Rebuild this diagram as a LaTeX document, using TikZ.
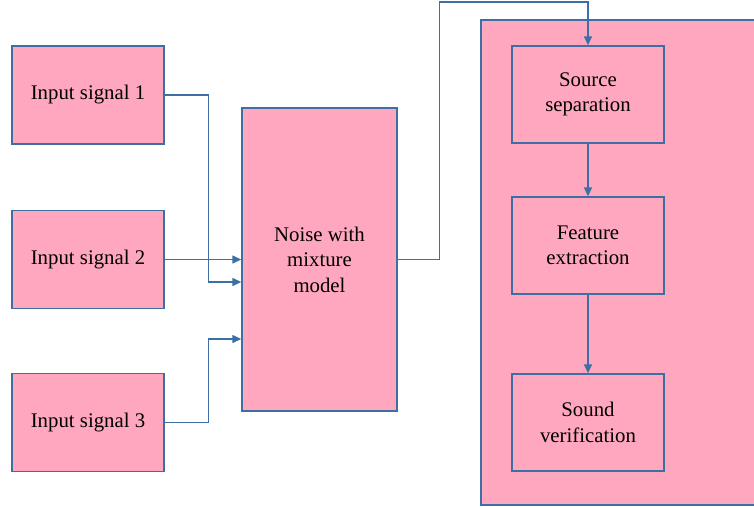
\documentclass[tikz,border=0pt]{standalone}
\usepackage{fontspec}
\setmainfont{Liberation Serif}
\usetikzlibrary{arrows.meta,calc}
\definecolor{boxfill}{HTML}{FFA7BE}
\definecolor{edge}{HTML}{3D6FA3}
\tikzset{
  blk/.style={draw=edge, fill=boxfill, line width=1.4pt, align=center, inner sep=0pt,
    font=\fontsize{20.8}{25.5}\selectfont, text=black},
  arr/.style={draw=edge, line width=1.4pt, -{Triangle[length=9pt,width=8pt]}}
}
\begin{document}
\begin{tikzpicture}[x=1pt,y=-1pt]
\useasboundingbox (0,0) rectangle (754,507);
\clip (0,0) rectangle (754,507);
\node[blk, minimum width=320pt, minimum height=485pt] (big) at (641,262.5) {};
\node[blk, minimum width=152pt, minimum height=98pt] (in1) at (88,95) {Input signal 1};
\node[blk, minimum width=152pt, minimum height=98pt] (in2) at (88,259.5) {Input signal 2};
\node[blk, minimum width=152pt, minimum height=98pt] (in3) at (88,422.5) {Input signal 3};
\node[blk, minimum width=155pt, minimum height=303pt] (noise) at (319.5,259.5) {Noise with\\mixture\\model};
\node[blk, minimum width=152pt, minimum height=97pt] (ss) at (588,94.5) {Source\\separation};
\node[blk, minimum width=152pt, minimum height=97pt] (fe) at (588,245.5) {Feature\\extraction};
\node[blk, minimum width=152pt, minimum height=97pt] (sv) at (588,422.5) {Sound\\verification};
\draw[arr] (in1.east) -- ++(44,0) |- ($(noise.west)+(0,22.5)$);
\draw[arr] (in2.east) -- (noise.west);
\draw[arr] (in3.east) -- ++(44,0) |- ($(noise.west)+(0,79.5)$);
\draw[arr] (noise.east) -- ++(42,0) -- ++(0,-257.5) -| (ss.north);
\draw[arr] (ss.south) -- (fe.north);
\draw[arr] (fe.south) -- (sv.north);
\end{tikzpicture}
\end{document}
